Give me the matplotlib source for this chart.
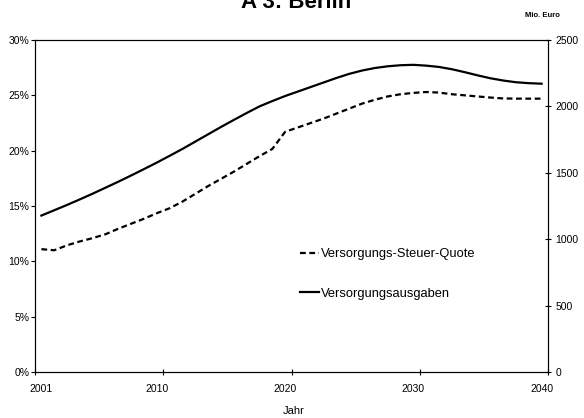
import numpy as np
import matplotlib
matplotlib.use("Agg")
import matplotlib.pyplot as plt
from matplotlib.ticker import FuncFormatter, FixedLocator, NullFormatter

plt.rcParams["font.family"] = ["Liberation Sans", "DejaVu Sans"]

# data: one value per year 2001..2040
years = np.arange(2001, 2041)
quote = [11.1, 11.0, 11.45, 11.8, 12.1, 12.45, 12.95, 13.4, 13.85, 14.35,
         14.8, 15.4, 16.1, 16.8, 17.45, 18.1, 18.8, 19.5, 20.15, 21.7,
         22.1, 22.5, 22.9, 23.35, 23.8, 24.25, 24.6, 24.9, 25.1, 25.22,
         25.3, 25.25, 25.1, 25.0, 24.9, 24.8, 24.72, 24.7, 24.7, 24.7]
ausgaben = [1178, 1218, 1258, 1300, 1343, 1388, 1433, 1480, 1528, 1577,
            1628, 1680, 1735, 1790, 1845, 1898, 1950, 2000, 2040, 2078,
            2112, 2146, 2180, 2214, 2245, 2270, 2289, 2302, 2310, 2313,
            2307, 2297, 2280, 2258, 2234, 2212, 2195, 2182, 2175, 2171]
label_years = [2001, 2010, 2020, 2030, 2040]

W, H = 584, 418
fig = plt.figure(figsize=(W / 100, H / 100), dpi=100)
ax = fig.add_axes([35 / W, 1 - 372 / H, 513 / W, 332 / H])
ax2 = ax.twinx()

x = np.arange(len(years))
l1, = ax.plot(x, np.array(quote) / 100, color="black", lw=1.6,
              linestyle=(0, (2.6, 1.6)), dash_capstyle="butt")
l2, = ax2.plot(x, ausgaben, color="black", lw=1.6)

ax.set_xlim(-0.5, len(years) - 0.5)
ax.set_ylim(0, 0.30)
ax2.set_ylim(0, 2500)

# category axis: ticks between categories, labels on the year
ax.xaxis.set_major_locator(FixedLocator([-0.5, 9.5, 19.5, 29.5, 39.5]))
ax.xaxis.set_major_formatter(NullFormatter())
ax.xaxis.set_minor_locator(FixedLocator([list(years).index(y) for y in label_years]))
ax.set_xticklabels([str(y) for y in label_years], minor=True)
ax.tick_params(axis="x", which="major", direction="inout", length=5, width=0.8)
ax.tick_params(axis="x", which="minor", length=0, pad=8.5, labelsize=7.5)

ax.set_yticks(np.arange(0, 0.301, 0.05))
ax.yaxis.set_major_formatter(FuncFormatter(lambda v, p: "{:.0f}%".format(v * 100)))
ax.tick_params(axis="y", direction="out", length=3, width=0.8, pad=1.2, labelsize=7.5)

ax2.set_yticks(np.arange(0, 2501, 500))
ax2.tick_params(axis="y", direction="inout", length=5, width=0.8, pad=3, labelsize=7.5)

for a in (ax, ax2):
    for s in a.spines.values():
        s.set_linewidth(0.8)

fig.text(296 / W, 1 - 8.5 / H, "A 3: Berlin", ha="center", va="baseline",
         fontsize=16, fontweight="bold")
fig.text(542 / W, 1 - 15.5 / H, "Mio. Euro", ha="center", va="center",
         fontsize=5.5, fontweight="bold")
fig.text(294 / W, 1 - 411 / H, "Jahr", ha="center", va="center", fontsize=8)

fig.legend([l1, l2], ["Versorgungs-Steuer-Quote", "Versorgungsausgaben"],
           loc="upper left", bbox_to_anchor=(300 / W, 1 - 248 / H),
           frameon=False, fontsize=9.3, borderpad=0, borderaxespad=0,
           handlelength=1.5, handletextpad=0.15, labelspacing=2.15)

fig.savefig("out.png", dpi=100)
